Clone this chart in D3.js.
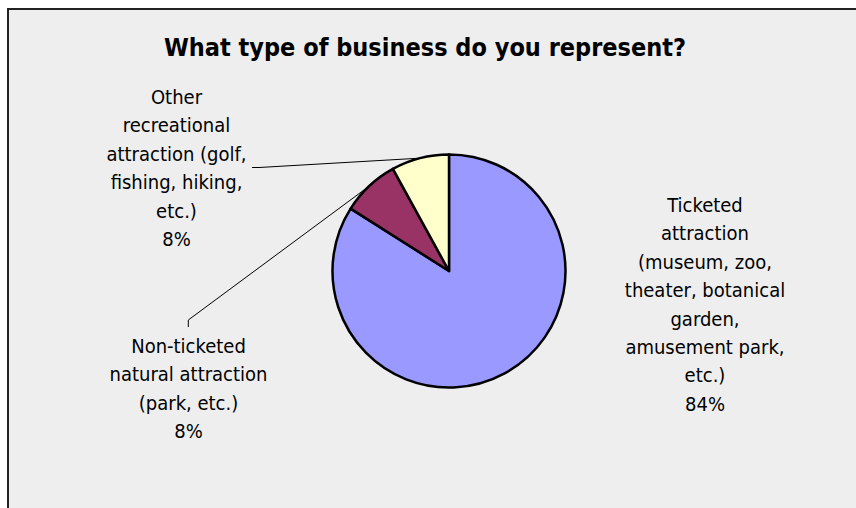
<!DOCTYPE html>
<html>
<head>
<meta charset="utf-8">
<script src="https://cdn.jsdelivr.net/npm/d3@7"></script>
<style>
  html, body { margin: 0; padding: 0; background: #ffffff; }
  svg { display: block; }
  text { font-family: "DejaVu Sans Condensed", "DejaVu Sans", sans-serif; fill: #000; }
</style>
</head>
<body>
<svg id="chart" width="856" height="508"></svg>
<script>
// Survey answers
const categories = [
  "Ticketed attraction (museum, zoo, theater, botanical garden, amusement park, etc.)",
  "Non-ticketed natural attraction (park, etc.)",
  "Other recreational attraction (golf, fishing, hiking, etc.)"
];
const percents = [84, 8, 8];
const labelLines = [
  ["Ticketed", "attraction", "(museum, zoo,", "theater, botanical", "garden,", "amusement park,", "etc.)"],
  ["Non-ticketed", "natural attraction", "(park, etc.)"],
  ["Other", "recreational", "attraction (golf,", "fishing, hiking,", "etc.)"]
];
const sliceColors = ["#9999ff", "#993366", "#ffffcc"];
const title = "What type of business do you represent?";

const svg = d3.select("#chart");

// chart area frame (continues past the right and bottom edges)
svg.append("rect")
  .attr("x", 8).attr("y", 9)
  .attr("width", 900).attr("height", 560)
  .attr("fill", "#eeeeee")
  .attr("stroke", "#222").attr("stroke-width", 2);

svg.append("text")
  .attr("x", 425).attr("y", 56)
  .attr("text-anchor", "middle")
  .style("font-weight", "bold")
  .style("font-size", "25px")
  .text(title);

const cx = 449, cy = 271, r = 116.5;
const data = categories.map((c, i) => ({ name: c, value: percents[i], color: sliceColors[i], lines: labelLines[i] }));

const pie = d3.pie().value(d => d.value).sort(null);
const arcs = pie(data);
const arc = d3.arc().innerRadius(0).outerRadius(r);

const g = svg.append("g").attr("transform", `translate(${cx},${cy})`);
g.selectAll("path.slice")
  .data(arcs)
  .join("path")
  .attr("class", "slice")
  .attr("d", arc)
  .attr("fill", d => d.data.color)
  .attr("stroke", "#000")
  .attr("stroke-width", 2.5)
  .attr("stroke-linejoin", "round");

// label placement (centre x, top line baseline) and leader start points
const labelPos = [
  { x: 705, y: 212, leader: null },
  { x: 188.5, y: 353, leader: [[188.3, 327], [188.3, 320]] },
  { x: 176.5, y: 104, leader: [[252, 167.5], [259, 167.5]] }
];
const lineH = 28.4;

arcs.forEach((a, i) => {
  const p = labelPos[i];
  const t = svg.append("text")
    .attr("text-anchor", "middle")
    .style("font-size", "20px");
  const lines = a.data.lines.concat([a.data.value + "%"]);
  lines.forEach((ln, k) => {
    t.append("tspan").attr("x", p.x).attr("y", p.y + k * lineH).text(ln);
  });
  if (p.leader) {
    const mid = (a.startAngle + a.endAngle) / 2;
    const edge = [cx + r * Math.sin(mid), cy - r * Math.cos(mid)];
    const pts = p.leader.concat([edge]);
    svg.append("path")
      .attr("d", d3.line()(pts))
      .attr("fill", "none")
      .attr("stroke", "#000")
      .attr("stroke-width", 1);
  }
});
</script>
</body>
</html>
